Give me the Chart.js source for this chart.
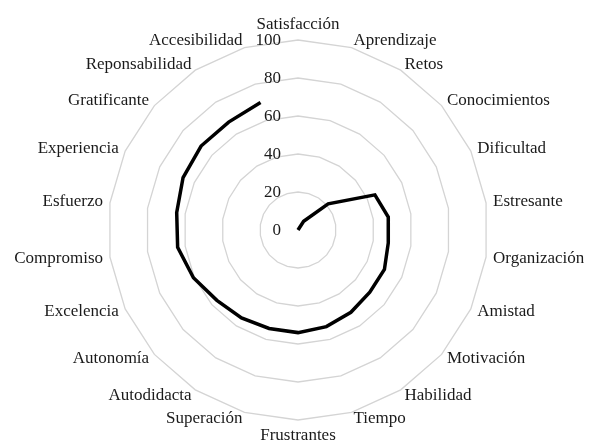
<!DOCTYPE html>
<html>
<head>
<meta charset="utf-8">
<script src="https://cdn.jsdelivr.net/npm/chart.js@4"></script>
<style>
  html, body { margin: 0; padding: 0; background: #fff; overflow: hidden; }
  #wrap { width: 589px; height: 440px; position: relative; }
</style>
</head>
<body>
<div id="wrap"><canvas id="chartRadar"></canvas></div>
<script>
const categorias = ['Satisfacción', 'Aprendizaje', 'Retos', 'Conocimientos', 'Dificultad', 'Estresante',
    'Organización', 'Amistad', 'Motivación', 'Habilidad', 'Tiempo', 'Frustrantes', 'Superación',
    'Autodidacta', 'Autonomía', 'Excelencia', 'Compromiso', 'Esfuerzo', 'Experiencia', 'Gratificante',
    'Reponsabilidad', 'Accesibilidad'];
// Satisfacción sin valor: la línea no se cierra
const valores = [null, 0, 5.5, 21, 44.5, 48, 48, 50, 50, 51.5, 53, 54, 54, 55, 56.5, 60.5, 64, 64.5, 66.5, 67.5, 67.5, 70];
const marcas = [0, 20, 40, 60, 80, 100];

const fuente = '17px "Liberation Serif", "Times New Roman", serif';
const colorTexto = '#1a1a1a';

// etiquetas al estilo Excel: a la izquierda/derecha centradas en vertical
const etiquetasPlugin = {
    id: 'etiquetas',
    afterDraw(chart) {
        const scale = chart.scales.r;
        const ctx = chart.ctx;
        ctx.save();
        ctx.fillStyle = colorTexto;
        ctx.font = fuente;
        categorias.forEach((nombre, i) => {
            const p = scale.getPointPosition(i, scale.drawingArea + 7);
            const grados = Math.round(scale.getIndexAngle(i) * 180 / Math.PI) % 360;
            if (grados === 0) {
                ctx.textAlign = 'center';
                ctx.textBaseline = 'bottom';
            } else if (grados === 180) {
                ctx.textAlign = 'center';
                ctx.textBaseline = 'top';
            } else {
                ctx.textAlign = grados < 180 ? 'left' : 'right';
                ctx.textBaseline = 'middle';
            }
            ctx.fillText(nombre, p.x, p.y);
        });
        ctx.textAlign = 'right';
        ctx.textBaseline = 'middle';
        marcas.forEach(v => {
            const d = scale.getDistanceFromCenterForValue(v);
            ctx.fillText(String(v), scale.xCenter - 17, scale.yCenter - d + 1);
        });
        ctx.restore();
    }
};

const ctxRadar = document.getElementById('chartRadar').getContext('2d');
const chartRadar = new Chart(ctxRadar, {
    type: 'radar',
    data: {
        labels: categorias,
        datasets: [{
            label: 'Serie 1',
            data: valores,
            borderColor: '#000',
            borderWidth: 3.5,
            pointRadius: 0,
            fill: false,
            spanGaps: false
        }]
    },
    options: {
        responsive: true,
        maintainAspectRatio: false,
        animation: false,
        layout: { padding: { left: 108, right: 101, top: 40, bottom: 20 } },
        plugins: {
            legend: { display: false },
            tooltip: { enabled: false }
        },
        scales: {
            r: {
                min: 0,
                max: 100,
                ticks: { stepSize: 20, display: false },
                pointLabels: { display: false },
                angleLines: { display: false },
                grid: { circular: false, color: '#d4d4d4', lineWidth: 1.3 }
            }
        }
    },
    plugins: [etiquetasPlugin]
});
</script>
</body>
</html>
